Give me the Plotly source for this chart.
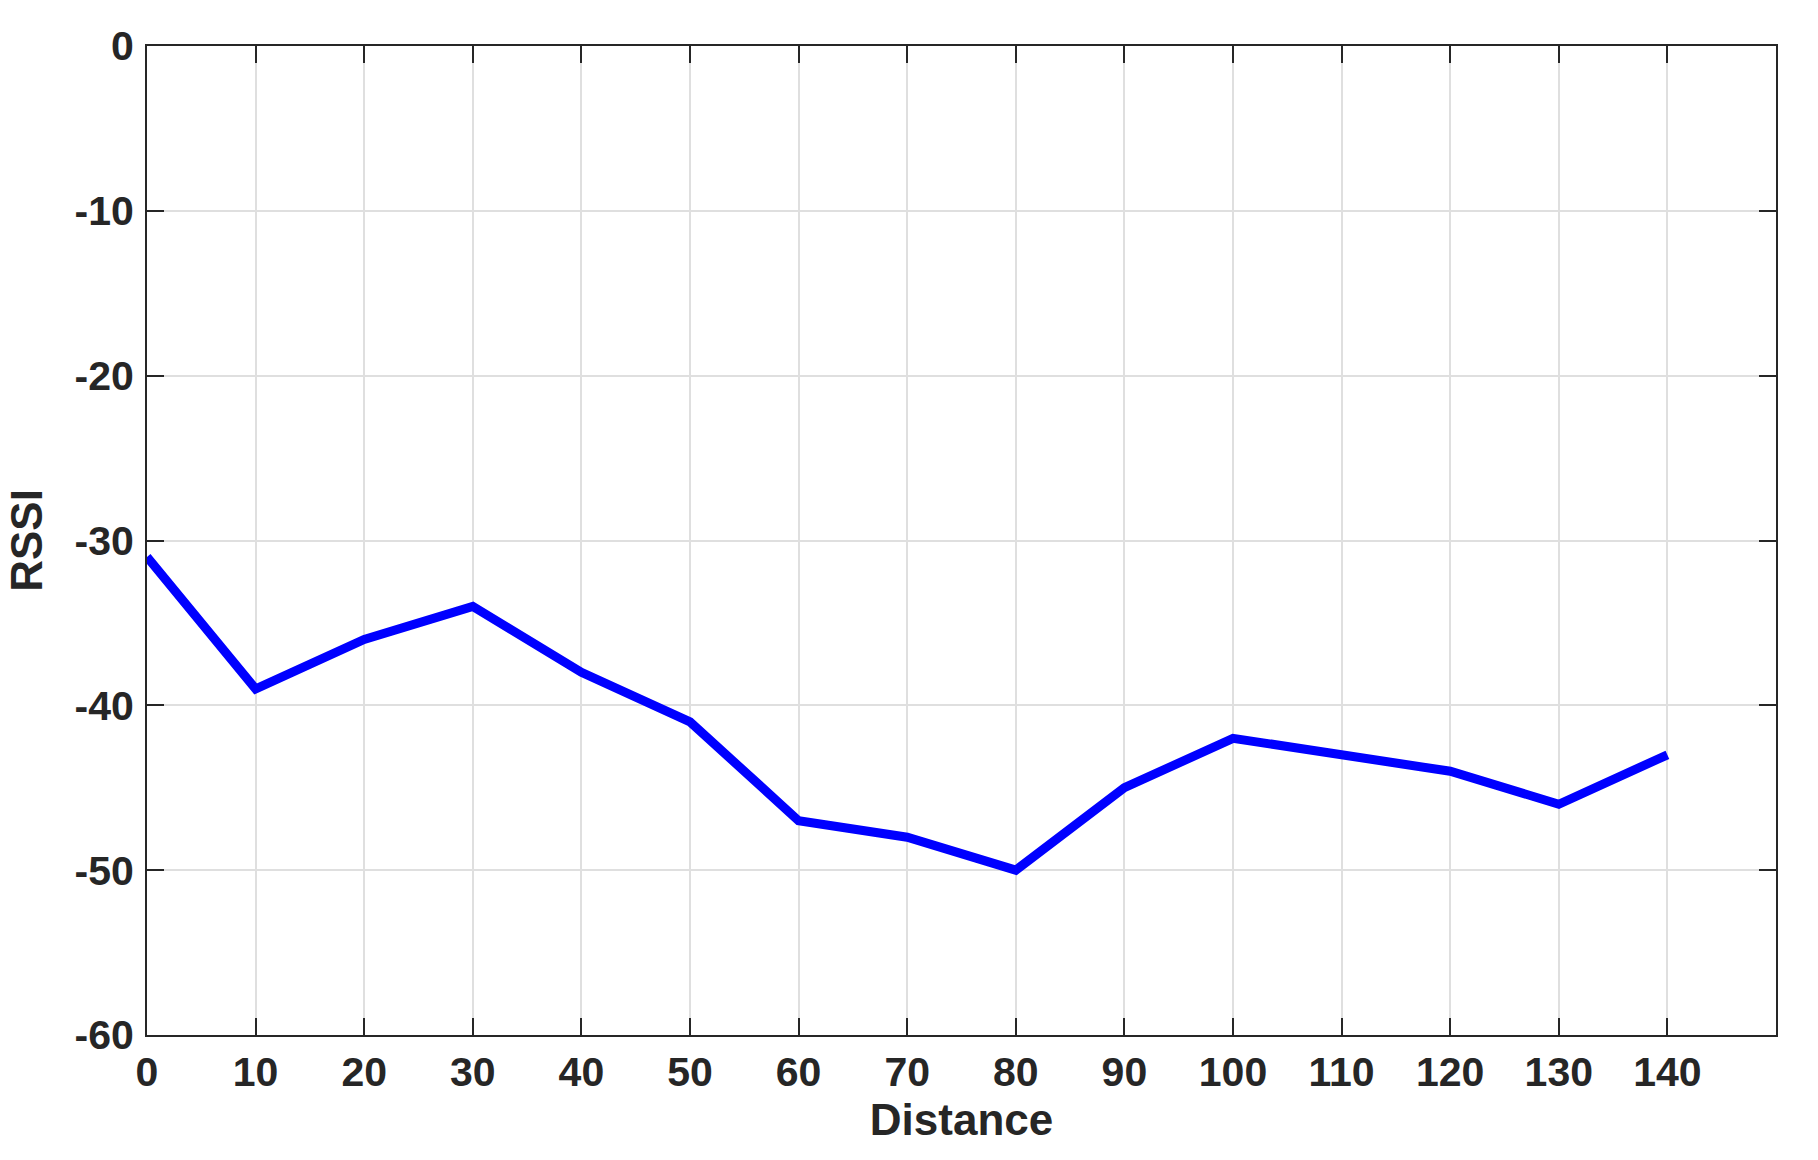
import plotly.graph_objects as go

distance = [0, 10, 20, 30, 40, 50, 60, 70, 80, 90, 100, 110, 120, 130, 140]
rssi = [-31, -39, -36, -34, -38, -41, -47, -48, -50, -45, -42, -43, -44, -46, -43]

x_ticks = list(range(0, 150, 10))
y_ticks = [-60, -50, -40, -30, -20, -10, 0]

FONT = "Liberation Sans, Arial, sans-serif"
AXIS_COLOR = "#262626"
GRID_COLOR = "#dfdfdf"

fig = go.Figure()
fig.add_trace(
    go.Scatter(
        x=distance,
        y=rssi,
        mode="lines",
        line=dict(color="#0000ff", width=9),
        showlegend=False,
    )
)

axis_common = dict(
    showline=True,
    linecolor=AXIS_COLOR,
    linewidth=2,
    mirror="ticks",
    ticks="inside",
    ticklen=17,
    tickwidth=2,
    tickcolor=AXIS_COLOR,
    showgrid=True,
    gridcolor=GRID_COLOR,
    gridwidth=2,
    zeroline=False,
    tickfont=dict(family=FONT, size=41, color=AXIS_COLOR, weight="bold"),
)

title_font = dict(family=FONT, size=44, color=AXIS_COLOR, weight="bold")

fig.update_xaxes(
    range=[0, 150],
    tickvals=x_ticks,
    ticktext=[str(v) for v in x_ticks],
    title=dict(text="Distance", font=title_font, standoff=6),
    **axis_common,
)
fig.update_yaxes(
    range=[-60, 0],
    tickvals=y_ticks,
    ticktext=[str(v) for v in y_ticks],
    ticklabelstandoff=3,
    title=dict(text="RSSI", font=title_font, standoff=18),
    **axis_common,
)

fig.update_layout(
    width=1818,
    height=1160,
    margin=dict(l=147, r=42, t=46, b=125, autoexpand=False),
    plot_bgcolor="white",
    paper_bgcolor="white",
    font=dict(family=FONT, color=AXIS_COLOR),
)

# drop the browser's default body margin so the figure sits at the page origin
fig.write_html(
    "out.html",
    config={"displayModeBar": False},
    post_script="document.body.style.margin='0';",
)
